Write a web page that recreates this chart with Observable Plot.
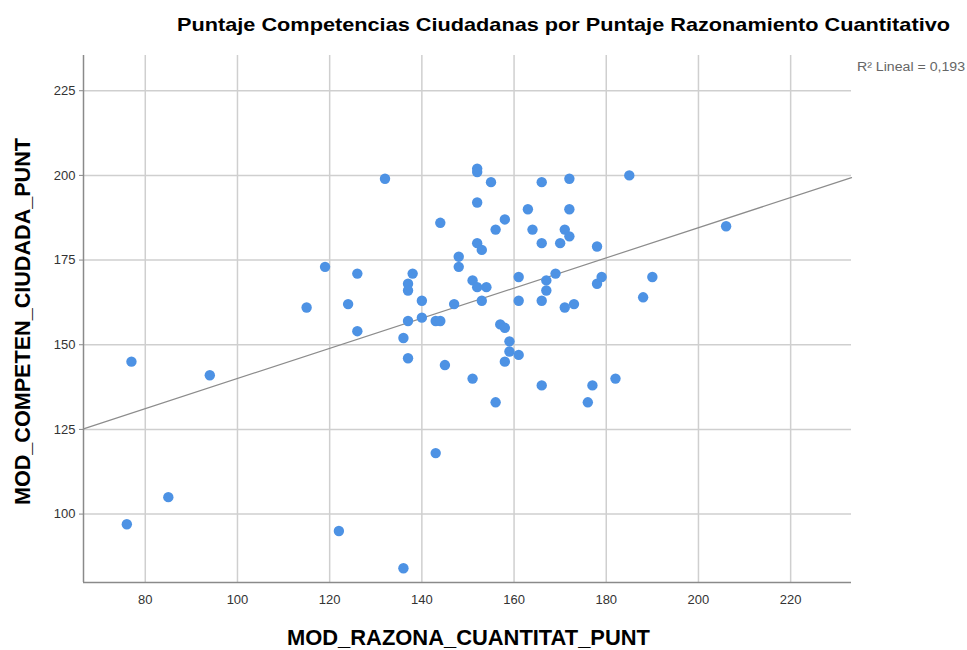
<!DOCTYPE html>
<html><head><meta charset="utf-8">
<script src="https://cdn.jsdelivr.net/npm/d3@7"></script>
<script src="https://cdn.jsdelivr.net/npm/@observablehq/plot@0.6"></script>
<style>
body{margin:0;background:#fff;font-family:"Liberation Sans",Arial,sans-serif;}
#wrap{position:relative;width:967px;height:650px;overflow:hidden;background:#fff}
#chart{position:absolute;left:0;top:0}
#overlay{position:absolute;left:0;top:0;pointer-events:none}
</style></head><body>
<div id="wrap"><div id="chart"></div>
<svg id="overlay" width="967" height="650" font-family="Liberation Sans, Arial, sans-serif"></svg></div>
<script>
// Puntaje Razonamiento Cuantitativo (x)
const razonamiento = [77,94,85,76,122,136,143,126,136,137,145,151,
 132,144,119,126,138,148,148,137,137,115,124,140,147,137,140,143,144,
 151,152,154,152,152,152,152,153,155,156,158,153,
 156,157,158,159,159,161,158,166,177,182,176,
 161,166,171,173,161,167,167,169,178,179,190,188,
 166,172,185,163,172,164,171,172,166,170,178,206];
// Puntaje Competencias Ciudadanas (y)
const competencias = [145,141,105,97,95,84,118,154,152,146,144,140,
 199,186,173,171,171,176,173,168,166,161,162,163,162,157,158,157,157,
 169,167,167,202,201,192,180,178,198,184,187,163,
 133,156,155,151,148,147,145,138,138,140,133,
 163,163,161,162,170,169,166,171,168,170,170,164,
 198,199,200,190,190,184,184,182,180,180,179,185];
const xTicks = [80,100,120,140,160,180,200,220];
const yTicks = [100,125,150,175,200,225];
const xDomain = [66.6, 233.2];
const yDomain = [79.8, 235.4];
const titleText = "Puntaje Competencias Ciudadanas por Puntaje Razonamiento Cuantitativo";
const xLabel = "MOD_RAZONA_CUANTITAT_PUNT";
const yLabel = "MOD_COMPETEN_CIUDADA_PUNT";
const r2Label = "R² Lineal = 0,193";

const data = razonamiento.map((x, i) => ({x, y: competencias[i]}));
const mx = d3.mean(razonamiento), my = d3.mean(competencias);
const slope = d3.sum(data, d => (d.x - mx) * (d.y - my)) / d3.sum(data, d => (d.x - mx) ** 2);
const intercept = my - slope * mx;
const fit = xDomain.map(x => ({x, y: intercept + slope * x}));

const plot = Plot.plot({
  width: 967, height: 650,
  marginLeft: 83, marginRight: 116, marginTop: 55, marginBottom: 68,
  x: {domain: xDomain},
  y: {domain: yDomain},
  style: {fontFamily: "Liberation Sans, Arial, sans-serif", fontSize: "13px", color: "#333", background: "#fff"},
  marks: [
    Plot.gridX(xTicks, {stroke: "#cfcfcf", strokeOpacity: 1, strokeWidth: 1.5}),
    Plot.gridY(yTicks, {stroke: "#cfcfcf", strokeOpacity: 1, strokeWidth: 1.5}),
    Plot.axisX(xTicks, {label: null, tickSize: 0, tickPadding: 12, fill: "#333", fontSize: 13}),
    Plot.axisY(yTicks, {label: null, tickSize: 4, tickPadding: 4, stroke: "#888", fill: "#333", fontSize: 13}),
    Plot.ruleX([xDomain[0]], {stroke: "#8a8a8a", strokeWidth: 1.5}),
    Plot.ruleY([yDomain[0]], {stroke: "#8a8a8a", strokeWidth: 1.5}),
    Plot.line(fit, {x: "x", y: "y", stroke: "#8c8c8c", strokeWidth: 1.2}),
    Plot.dot(data, {x: "x", y: "y", r: 5.2, fill: "#4d92e4", stroke: "none"})
  ]
});
document.getElementById("chart").appendChild(plot);

const ov = d3.select("#overlay");
ov.append("text").attr("x", 177).attr("y", 31).attr("font-size", 18.5).attr("font-weight", "bold")
  .attr("fill", "#000").attr("textLength", 773).attr("lengthAdjust", "spacingAndGlyphs").text(titleText);
ov.append("text").attr("x", 287).attr("y", 645).attr("font-size", 21.5).attr("font-weight", "bold")
  .attr("fill", "#000").attr("textLength", 363).attr("lengthAdjust", "spacingAndGlyphs").text(xLabel);
ov.append("text").attr("transform", "translate(30,505) rotate(-90)").attr("font-size", 21.5).attr("font-weight", "bold")
  .attr("fill", "#000").attr("textLength", 367).attr("lengthAdjust", "spacingAndGlyphs").text(yLabel);
ov.append("text").attr("x", 857).attr("y", 71).attr("font-size", 12)
  .attr("fill", "#666").attr("textLength", 108).attr("lengthAdjust", "spacingAndGlyphs").text(r2Label);
</script></body></html>
